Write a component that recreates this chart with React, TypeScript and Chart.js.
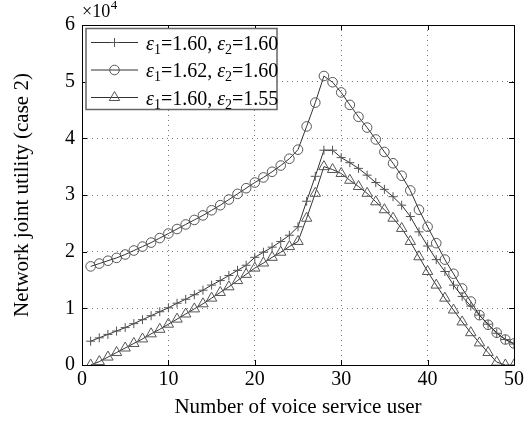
import React, { useEffect, useRef } from 'react';
import { Chart, registerables } from 'chart.js';

Chart.register(...registerables);

const users = [
  1, 2, 3, 4, 5, 6, 7, 8, 9, 10, 11, 12, 13, 14, 15, 16, 17, 18, 19, 20, 21, 22, 23, 24, 25,
  26, 27, 28, 29, 30, 31, 32, 33, 34, 35, 36, 37, 38, 39, 40, 41, 42, 43, 44, 45, 46, 47, 48, 49, 50,
];

// values in units of 1e4
const seriesA = [
  0.42, 0.48, 0.54, 0.60, 0.66, 0.73, 0.80, 0.87, 0.94, 1.01, 1.09, 1.16, 1.24, 1.32, 1.41, 1.49, 1.58, 1.67, 1.76, 1.90, 1.99, 2.08, 2.18, 2.29, 2.44,
  2.89, 3.33, 3.79, 3.79, 3.66, 3.57, 3.47, 3.35, 3.22, 3.10, 2.97, 2.82, 2.62, 2.35, 2.10, 1.86, 1.65, 1.41, 1.21, 1.04, 0.88, 0.72, 0.56, 0.45, 0.37,
];
const seriesB = [
  1.74, 1.79, 1.84, 1.89, 1.95, 2.02, 2.09, 2.16, 2.24, 2.32, 2.40, 2.48, 2.56, 2.64, 2.73, 2.82, 2.92, 3.02, 3.12, 3.22, 3.31, 3.41, 3.52, 3.64, 3.80,
  4.21, 4.63, 5.10, 4.99, 4.81, 4.59, 4.38, 4.19, 3.98, 3.76, 3.56, 3.34, 3.08, 2.74, 2.44, 2.15, 1.86, 1.61, 1.35, 1.12, 0.88, 0.71, 0.57, 0.45, 0.38,
];
const seriesC = [
  0.00, 0.06, 0.14, 0.22, 0.30, 0.38, 0.46, 0.55, 0.63, 0.72, 0.81, 0.90, 0.99, 1.08, 1.18, 1.28, 1.38, 1.49, 1.60, 1.71, 1.80, 1.90, 1.99, 2.09, 2.18,
  2.59, 3.03, 3.50, 3.45, 3.38, 3.26, 3.15, 3.03, 2.88, 2.74, 2.59, 2.41, 2.18, 1.91, 1.65, 1.41, 1.18, 0.97, 0.76, 0.57, 0.39, 0.22, 0.05, 0.00, 0.00,
];

const legendEps1 = ['1.60', '1.62', '1.60'];
const legendEps2 = ['1.60', '1.60', '1.55'];
const markerStyles = ['cross', 'circle', 'triangle'];
const markerRadii = [4.5, 4.8, 6];

const xTitle = 'Number of voice service user';
const yTitle = 'Network joint utility (case 2)';

const SERIF = '"Liberation Serif", "DejaVu Serif", serif';
const LINE = '#333';
const MARK = '#555';

function drawMarker(ctx: CanvasRenderingContext2D, style: string, x: number, y: number, r: number) {
  ctx.beginPath();
  if (style === 'cross') {
    ctx.moveTo(x - r, y); ctx.lineTo(x + r, y);
    ctx.moveTo(x, y - r); ctx.lineTo(x, y + r);
  } else if (style === 'circle') {
    ctx.arc(x, y, r, 0, Math.PI * 2);
  } else {
    for (let i = 0; i < 3; i++) {
      const a = (i * 2 * Math.PI) / 3;
      const px = x + Math.sin(a) * r;
      const py = y - Math.cos(a) * r;
      if (i === 0) ctx.moveTo(px, py); else ctx.lineTo(px, py);
    }
    ctx.closePath();
  }
  ctx.stroke();
}

const decorPlugin = {
  id: 'decor',
  afterDraw(chart: any) {
    const ctx: CanvasRenderingContext2D = chart.ctx;
    const { left, right, top, bottom } = chart.chartArea;
    const xs = chart.scales.x;
    const ys = chart.scales.y;
    ctx.save();
    // box
    ctx.strokeStyle = '#000';
    ctx.lineWidth = 1;
    ctx.setLineDash([]);
    ctx.strokeRect(Math.round(left) + 0.5, Math.round(top) + 0.5, Math.round(right - left), Math.round(bottom - top));
    // inward ticks
    const tl = 5;
    ctx.beginPath();
    xs.ticks.forEach((t: any) => {
      const px = Math.round(xs.getPixelForValue(t.value)) + 0.5;
      ctx.moveTo(px, bottom); ctx.lineTo(px, bottom - tl);
      ctx.moveTo(px, top); ctx.lineTo(px, top + tl);
    });
    ys.ticks.forEach((t: any) => {
      const py = Math.round(ys.getPixelForValue(t.value)) + 0.5;
      ctx.moveTo(left, py); ctx.lineTo(left + tl, py);
      ctx.moveTo(right, py); ctx.lineTo(right - tl, py);
    });
    ctx.stroke();

    // exponent label
    ctx.fillStyle = '#000';
    ctx.textBaseline = 'alphabetic';
    ctx.textAlign = 'left';
    ctx.font = `18px ${SERIF}`;
    ctx.fillText('×10', left, 17);
    const w = ctx.measureText('×10').width;
    ctx.font = `13px ${SERIF}`;
    ctx.fillText('4', left + w + 0.5, 9);

    // legend
    const bx = left + 4, by = top + 3.5, bw = 191, bh = 81;
    ctx.fillStyle = '#fff';
    ctx.fillRect(bx, by, bw, bh);
    ctx.strokeStyle = '#666';
    ctx.lineWidth = 1.5;
    ctx.strokeRect(bx, by, bw, bh);
    const rows = [by + 14, by + 41.5, by + 69];
    for (let i = 0; i < 3; i++) {
      const ry = rows[i];
      ctx.strokeStyle = LINE;
      ctx.lineWidth = 1;
      ctx.beginPath();
      ctx.moveTo(bx + 5, ry); ctx.lineTo(bx + 52, ry);
      ctx.stroke();
      ctx.strokeStyle = MARK;
      drawMarker(ctx, markerStyles[i], bx + 28.5, ry, markerRadii[i]);
      let tx = bx + 60;
      const base = ry + 7;
      ctx.fillStyle = '#000';
      const seg = (txt: string, font: string, dy: number) => {
        ctx.font = font;
        ctx.fillText(txt, tx, base + dy);
        tx += ctx.measureText(txt).width;
      };
      seg('ε', `italic 20px ${SERIF}`, 0);
      seg('1', `14px ${SERIF}`, 4);
      seg('=' + legendEps1[i] + ', ', `20px ${SERIF}`, 0);
      seg('ε', `italic 20px ${SERIF}`, 0);
      seg('2', `14px ${SERIF}`, 4);
      seg('=' + legendEps2[i], `20px ${SERIF}`, 0);
    }
    ctx.restore();
  },
};

export default function App() {
  const ref = useRef<HTMLCanvasElement | null>(null);
  useEffect(() => {
    document.body.style.margin = '0';
    if (!ref.current) return;
    const mk = (vals: number[], i: number, label: string) => ({
      label,
      data: users.map((u, k) => ({ x: u, y: vals[k] })),
      borderColor: LINE,
      borderWidth: 1,
      pointStyle: markerStyles[i],
      pointRadius: markerRadii[i],
      pointBorderColor: MARK,
      pointBackgroundColor: 'rgba(0,0,0,0)',
      pointBorderWidth: 1,
      fill: false,
      tension: 0,
    });
    const chart = new Chart(ref.current, {
      type: 'line',
      data: {
        datasets: [
          mk(seriesA, 0, `ε1=${legendEps1[0]}, ε2=${legendEps2[0]}`),
          mk(seriesB, 1, `ε1=${legendEps1[1]}, ε2=${legendEps2[1]}`),
          mk(seriesC, 2, `ε1=${legendEps1[2]}, ε2=${legendEps2[2]}`),
        ],
      },
      options: {
        animation: false,
        responsive: false,
        layout: { padding: { left: 10, right: 14, top: 25, bottom: 8 } },
        plugins: { legend: { display: false }, tooltip: { enabled: false } },
        scales: {
          x: {
            type: 'linear',
            min: 0,
            max: 50,
            ticks: { stepSize: 10, color: '#000', font: { family: SERIF, size: 20 }, padding: 3, maxRotation: 0 },
            grid: { color: '#777', drawTicks: false, lineWidth: 1 },
            border: { display: false, dash: [1, 4] },
            title: { display: true, text: xTitle, color: '#000', font: { family: SERIF, size: 21 }, padding: 0 },
            afterFit: (s: any) => { s.height = 55; },
          },
          y: {
            type: 'linear',
            min: 0,
            max: 6,
            ticks: { stepSize: 1, color: '#000', font: { family: SERIF, size: 20 }, padding: 7 },
            grid: { color: '#777', drawTicks: false, lineWidth: 1 },
            border: { display: false, dash: [1, 4] },
            title: { display: true, text: yTitle, color: '#000', font: { family: SERIF, size: 21 }, padding: 0 },
            afterFit: (s: any) => { s.width = 72; },
          },
        },
      },
      plugins: [decorPlugin],
    } as any);
    return () => chart.destroy();
  }, []);
  return (
    <div style={{ position: 'fixed', left: 0, top: 0, width: 528, height: 428, background: '#fff' }}>
      <canvas ref={ref} width={528} height={428} style={{ width: 528, height: 428 }} />
    </div>
  );
}
